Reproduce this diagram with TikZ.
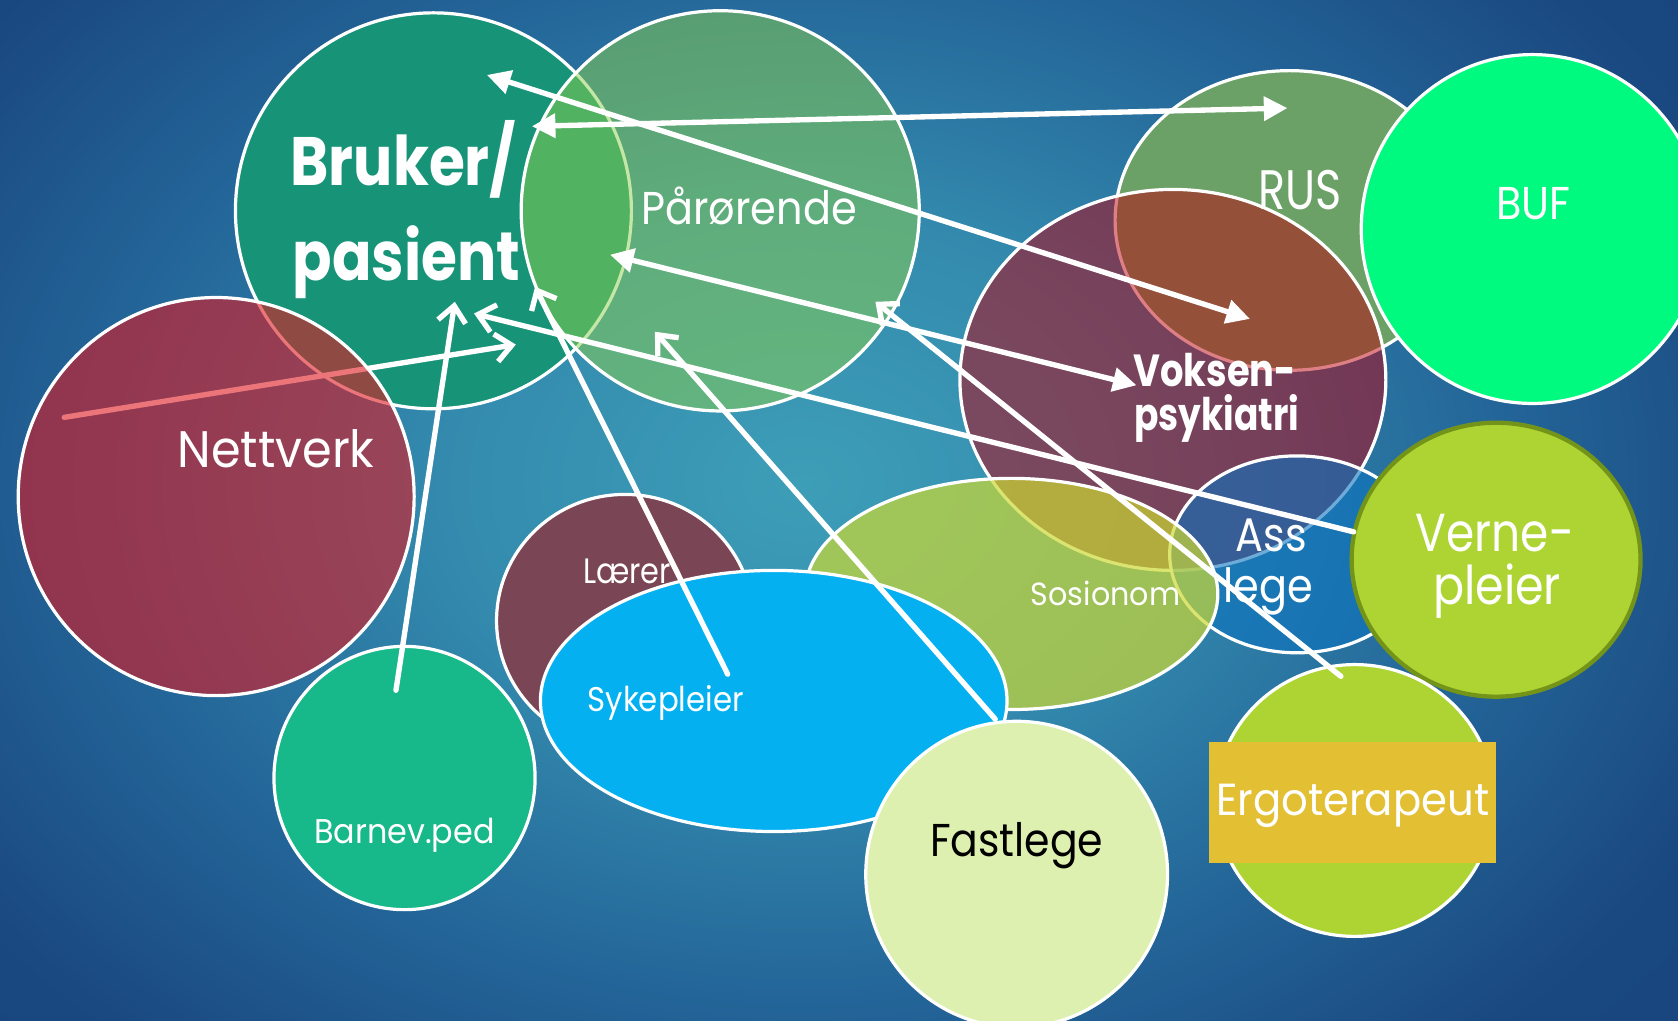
\documentclass[tikz,border=0pt]{standalone}
\usepackage{fontspec}
\usepackage{graphicx}
\setmainfont{Poppins}
\usetikzlibrary{shapes.geometric,arrows.meta}
\newcommand{\hsc}[2]{\scalebox{#1}[1]{#2}}
\definecolor{bgin}{rgb}{0.24,0.62,0.72}
\definecolor{bgmid}{rgb}{0.20,0.54,0.68}
\definecolor{bgmid2}{rgb}{0.14,0.40,0.60}
\definecolor{bgout}{rgb}{0.10,0.28,0.50}
\definecolor{bgfar}{rgb}{0.07,0.22,0.44}
\pgfdeclareradialshading{bgshade}{\pgfpoint{0bp}{0bp}}{color(0bp)=(bgin); color(9bp)=(bgmid); color(17bp)=(bgmid2); color(25bp)=(bgout); color(50bp)=(bgfar)}
\definecolor{cbruker}{rgb}{0.09,0.58,0.47}
\definecolor{cpaar}{rgb}{0.55,0.82,0.30}
\definecolor{cnett}{rgb}{0.87,0.10,0.13}
\definecolor{cbarn}{rgb}{0.09,0.72,0.54}
\definecolor{crus}{rgb}{0.42,0.63,0.40}
\definecolor{cbuf}{rgb}{0.00,0.98,0.50}
\definecolor{cvoks}{rgb}{0.74,0.00,0.05}
\definecolor{cass}{rgb}{0.05,0.45,0.75}
\definecolor{claer}{rgb}{0.48,0.27,0.33}
\definecolor{csos}{rgb}{0.80,0.85,0.20}
\definecolor{csyk}{rgb}{0.02,0.69,0.94}
\definecolor{cfast}{rgb}{0.87,0.94,0.69}
\definecolor{cvern}{rgb}{0.68,0.83,0.20}
\definecolor{cvernedge}{rgb}{0.45,0.58,0.10}
\definecolor{cergobox}{rgb}{0.89,0.75,0.20}
\begin{document}
\begin{tikzpicture}[x=0.5pt,y=-0.5pt,
  blob/.style={ellipse,inner sep=0pt,outer sep=0pt,draw=white,line width=1.5pt},
  lbl/.style={text=white,inner sep=0pt,anchor=base},
  link/.style={draw=white,line width=2.5pt,line cap=round},
  dbl/.style={link,{Triangle[length=11pt,width=11pt]}-{Triangle[length=11pt,width=11pt]}},
  one/.style={link,-{Straight Barb[length=7.5pt,width=13pt]}}]
\path[use as bounding box] (0,0) rectangle (1568,954);
\clip (0,0) rectangle (1568,954);
\shade[shading=bgshade] (-200,-250) rectangle (1700,1150);

% arrow end points
\coordinate (aI1) at (60,390);   \coordinate (aI2) at (482,322);
\coordinate (aA1) at (455,70);   \coordinate (aA2) at (1168,298);
\coordinate (aB1) at (497,118);  \coordinate (aB2) at (1203,101);
\coordinate (aC1) at (570,238);  \coordinate (aC2) at (1062,360);
\coordinate (aD1) at (1265,497); \coordinate (aD2) at (443,293);
\coordinate (aE1) at (1253,632); \coordinate (aE2) at (818,282);
\coordinate (aF1) at (930,672);  \coordinate (aF2) at (612,310);
\coordinate (aG1) at (680,630);  \coordinate (aG2) at (500,268);
\coordinate (aH1) at (370,645);  \coordinate (aH2) at (425,282);

\node[blob,fill=cbruker,minimum width=185pt,minimum height=185pt] (bruker) at (405,197) {};
\node[blob,fill=cpaar,fill opacity=0.5,minimum width=186pt,minimum height=187pt] (paar) at (673,197) {};
\draw[one] (aI1) -- (aI2);
\node[blob,fill=cnett,fill opacity=0.6,minimum width=185pt,minimum height=186pt] (nett) at (202,464) {};
\node[blob,fill=cbarn,minimum width=122pt,minimum height=123pt] (barn) at (378,727) {};
\node[blob,fill=crus,minimum width=163pt,minimum height=140pt] (rus) at (1205,206) {};
\node[blob,fill=cbuf,minimum width=160pt,minimum height=163pt] (buf) at (1432,214) {};
\node[blob,fill=cvoks,fill opacity=0.5,minimum width=199pt,minimum height=178pt] (voks) at (1096,355) {};
\node[blob,fill=cass,fill opacity=0.6,minimum width=119pt,minimum height=92pt] (ass) at (1212,518) {};
\node[lbl,font=\fontsize{22}{26}\selectfont] (tass) at (1188,515) {\hsc{0.88}{Ass}};
\node[lbl,font=\fontsize{22}{26}\selectfont] (tlege) at (1185,563) {\hsc{0.88}{lege}};
\node[blob,fill=claer,minimum width=120pt,minimum height=118pt] (laer) at (584,580) {};
\node[blob,fill=csos,fill opacity=0.7,minimum width=193pt,minimum height=108pt] (sos) at (945,555) {};
\node[blob,fill=csyk,minimum width=218pt,minimum height=122pt] (syk) at (723,655) {};
\node[blob,fill=cfast,minimum width=141pt,minimum height=143pt] (fast) at (950,817) {};
\node[blob,draw=cvernedge,line width=2pt,fill=cvern,minimum width=135pt,minimum height=128pt] (vern) at (1398,523) {};
\node[blob,fill=cvern,minimum width=130pt,minimum height=127pt] (ergo) at (1266,748) {};
\node[rectangle,fill=cergobox,inner sep=0pt,minimum width=134pt,minimum height=56.5pt] (ergobox) at (1264,750) {};

% labels
\node[lbl,font=\fontsize{32}{36}\bfseries\selectfont] (tbr1) at (377,173) {\hsc{0.85}{Bruker/}};
\node[lbl,font=\fontsize{32}{36}\bfseries\selectfont] (tbr2) at (380,262) {\hsc{0.85}{pasient}};
\node[lbl,font=\fontsize{21.5}{26}\selectfont] (tpaar) at (700,210) {\hsc{0.9}{Pårørende}};
\node[lbl,font=\fontsize{24}{28}\selectfont] (tnett) at (258,437) {\hsc{0.93}{Nettverk}};
\node[lbl,font=\fontsize{26}{30}\selectfont] (trus) at (1215,196) {\hsc{0.8}{RUS}};
\node[lbl,font=\fontsize{21.5}{26}\selectfont] (tbuf) at (1433,205) {\hsc{0.9}{BUF}};
\node[lbl,font=\fontsize{21}{25}\bfseries\selectfont] (tvo1) at (1135,361) {\hsc{0.82}{Voksen-}};
\node[lbl,font=\fontsize{21}{25}\bfseries\selectfont] (tvo2) at (1137,402) {\hsc{0.8}{psykiatri}};
\node[lbl,font=\fontsize{25}{29}\selectfont] (tve1) at (1397,515) {\hsc{0.85}{Verne-}};
\node[lbl,font=\fontsize{25}{29}\selectfont] (tve2) at (1399,565) {\hsc{0.86}{pleier}};
\node[lbl,font=\fontsize{15}{18}\selectfont] (tsos) at (1033,566) {\hsc{0.94}{Sosionom}};
\node[lbl,font=\fontsize{16.5}{20}\selectfont] (tlaer) at (586,545) {\hsc{0.86}{Lærer}};
\node[lbl,font=\fontsize{16}{19}\selectfont] (tsyk) at (622,665) {\hsc{0.9}{Sykepleier}};
\node[lbl,font=\fontsize{16}{19}\selectfont] (tbarn) at (378,788) {\hsc{0.93}{Barnev.ped}};
\node[lbl,text=black,font=\fontsize{21.5}{26}\selectfont] (tfast) at (950,800) {\hsc{0.89}{Fastlege}};
\node[lbl,font=\fontsize{21}{25}\selectfont] (tergo) at (1264,762) {\hsc{0.93}{Ergoterapeut}};

% connectors
\draw[dbl] (aA1) -- (aA2);
\draw[dbl] (aB1) -- (aB2);
\draw[dbl] (aC1) -- (aC2);
\draw[one] (aD1) -- (aD2);
\draw[one] (aE1) -- (aE2);
\draw[one] (aF1) -- (aF2);
\draw[one] (aG1) -- (aG2);
\draw[one] (aH1) -- (aH2);
\end{tikzpicture}
\end{document}
